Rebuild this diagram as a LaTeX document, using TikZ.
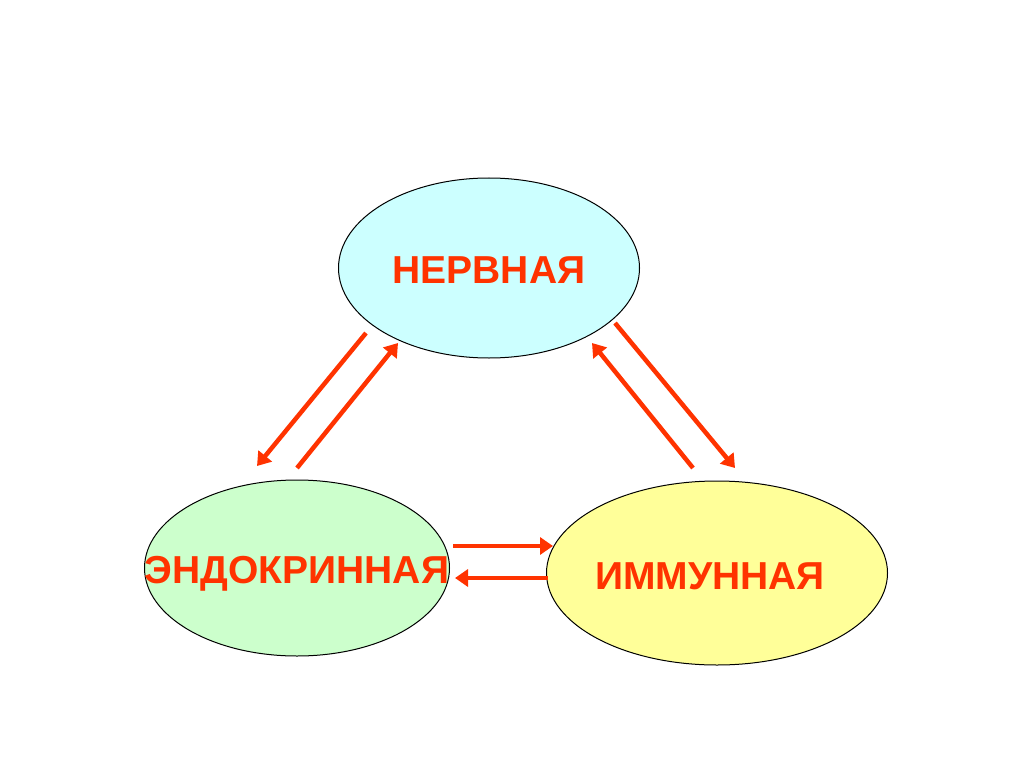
\documentclass[tikz,border=0pt]{standalone}
\usepackage{fontspec}
\setmainfont{Liberation Sans}
\usetikzlibrary{shapes.geometric,arrows.meta}
\definecolor{txt}{HTML}{FF3300}
\begin{document}
\begin{tikzpicture}[x=1pt,y=-1pt,
  blob/.style={ellipse,draw=black,line width=1pt,inner sep=0pt},
  lbl/.style={text=txt,font=\bfseries\fontsize{39}{42}\selectfont},
  arr/.style={draw=txt,line width=4.5pt,-{Triangle[length=13pt,width=17pt]}}]
\useasboundingbox[fill=white] (0,0) rectangle (1024,767);
\node[blob,fill={rgb,255:red,204;green,255;blue,255},minimum width=301pt,minimum height=180pt] (n) at (489,268) {};
\node[blob,fill={rgb,255:red,204;green,255;blue,204},minimum width=305pt,minimum height=176pt] (e) at (297,568) {};
\node[blob,fill={rgb,255:red,255;green,255;blue,153},minimum width=341pt,minimum height=184pt] (i) at (717,573) {};
\node[lbl] at (489,270) {НЕРВНАЯ};
\node[lbl] at (297,574) {ЭНДОКРИННАЯ};
\node[lbl] at (710,576) {ИММУННАЯ};
\coordinate (a1) at (366,333); \coordinate (a2) at (257,466);
\coordinate (b1) at (297,468); \coordinate (b2) at (398,343);
\coordinate (c1) at (693,468); \coordinate (c2) at (592,343);
\coordinate (d1) at (615,323); \coordinate (d2) at (735,468);
\coordinate (e1) at (453,546); \coordinate (e2) at (553,546);
\coordinate (f1) at (548,578); \coordinate (f2) at (455,578);
\draw[arr] (a1) -- (a2);
\draw[arr] (b1) -- (b2);
\draw[arr] (c1) -- (c2);
\draw[arr] (d1) -- (d2);
\draw[arr] (e1) -- (e2);
\draw[arr] (f1) -- (f2);
\end{tikzpicture}
\end{document}
